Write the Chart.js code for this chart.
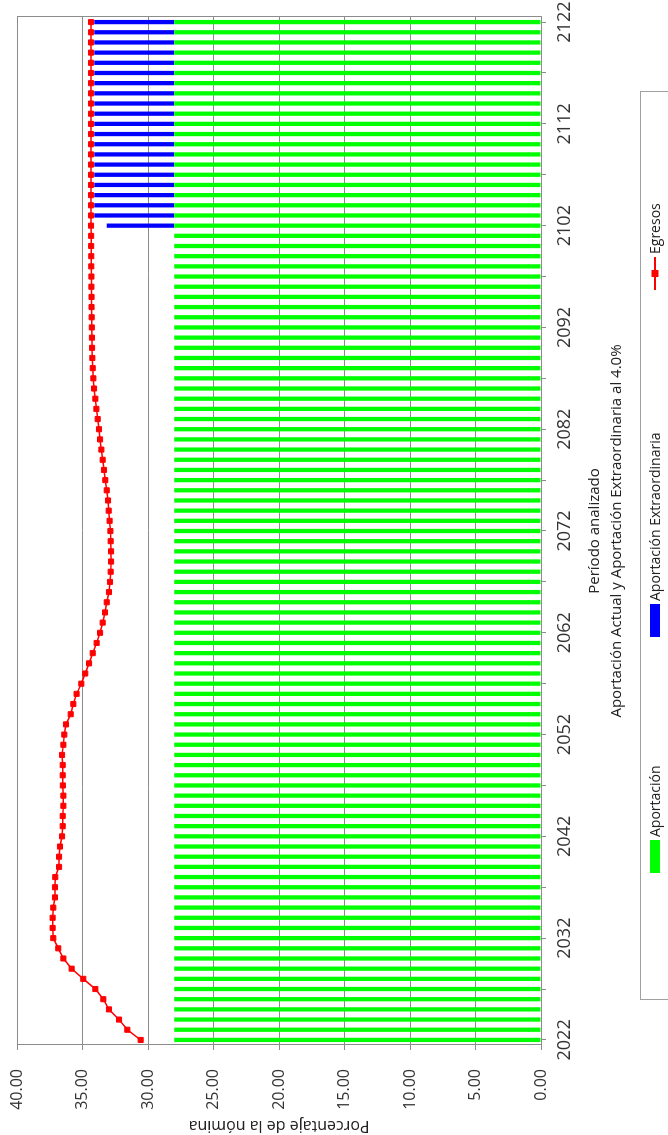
<!DOCTYPE html>
<html lang="es">
<head>
<meta charset="UTF-8">
<title>Aportación y Egresos</title>
<script src="https://cdn.jsdelivr.net/npm/chart.js@4.4.2/dist/chart.umd.min.js"></script>
<style>
    body { margin: 0; background: #fff; overflow: hidden; }
    #wrap {
        position: absolute; left: 0; top: 0;
        width: 1135px; height: 668px;
        transform-origin: 0 0;
        transform: translate(0, 1135px) rotate(-90deg);
        background: #fff;
    }
</style>
</head>
<body>
<div id="wrap"><canvas id="chart" width="1135" height="668"></canvas></div>
<script>
    const years = [
        '2022','2023','2024','2025','2026','2027','2028','2029','2030','2031',
        '2032','2033','2034','2035','2036','2037','2038','2039','2040','2041',
        '2042','2043','2044','2045','2046','2047','2048','2049','2050','2051',
        '2052','2053','2054','2055','2056','2057','2058','2059','2060','2061',
        '2062','2063','2064','2065','2066','2067','2068','2069','2070','2071',
        '2072','2073','2074','2075','2076','2077','2078','2079','2080','2081',
        '2082','2083','2084','2085','2086','2087','2088','2089','2090','2091',
        '2092','2093','2094','2095','2096','2097','2098','2099','2100','2101',
        '2102','2103','2104','2105','2106','2107','2108','2109','2110','2111',
        '2112','2113','2114','2115','2116','2117','2118','2119','2120','2121',
        '2122'
    ];
    const aportacion = [
        28,28,28,28,28,28,28,28,28,28,
        28,28,28,28,28,28,28,28,28,28,
        28,28,28,28,28,28,28,28,28,28,
        28,28,28,28,28,28,28,28,28,28,
        28,28,28,28,28,28,28,28,28,28,
        28,28,28,28,28,28,28,28,28,28,
        28,28,28,28,28,28,28,28,28,28,
        28,28,28,28,28,28,28,28,28,28,
        28,28,28,28,28,28,28,28,28,28,
        28,28,28,28,28,28,28,28,28,28,
        28
    ];
    const extraordinaria = [
        0,0,0,0,0,0,0,0,0,0,
        0,0,0,0,0,0,0,0,0,0,
        0,0,0,0,0,0,0,0,0,0,
        0,0,0,0,0,0,0,0,0,0,
        0,0,0,0,0,0,0,0,0,0,
        0,0,0,0,0,0,0,0,0,0,
        0,0,0,0,0,0,0,0,0,0,
        0,0,0,0,0,0,0,0,0,0,
        5.15,6.1,6.1,6.1,6.1,6.1,6.1,6.1,6.1,6.1,
        6.1,6.1,6.1,6.1,6.1,6.1,6.1,6.1,6.1,6.1,
        6.1
    ];
    const egresos = [
        30.56,31.58,32.21,32.98,33.41,34.02,34.94,35.83,36.46,36.85,
        37.23,37.28,37.28,37.23,37.10,37.10,37.08,36.79,36.79,36.72,
        36.56,36.51,36.51,36.46,36.46,36.50,36.51,36.51,36.56,36.46,
        36.39,36.26,35.90,35.70,35.45,35.09,34.79,34.50,34.22,33.92,
        33.66,33.46,33.28,33.15,32.98,32.90,32.85,32.82,32.82,32.85,
        32.87,32.93,33.00,33.05,33.15,33.26,33.36,33.46,33.56,33.66,
        33.74,33.84,33.94,34.02,34.12,34.17,34.22,34.25,34.27,34.28,
        34.29,34.30,34.31,34.31,34.32,34.32,34.33,34.33,34.34,34.34,
        34.35,34.35,34.35,34.35,34.35,34.35,34.35,34.35,34.35,34.35,
        34.35,34.35,34.35,34.35,34.35,34.35,34.35,34.35,34.35,34.35,
        34.35
    ];
    const valueTicks = [0, 5, 10, 15, 20, 25, 30, 35, 40];

    Chart.defaults.font.family = "'Open Sans', sans-serif";
    Chart.defaults.color = '#333';

    // plot frame + legend box with its three entries
    const frame = {
        id: 'frame',
        afterDraw(chart) {
            const ctx = chart.ctx, a = chart.chartArea;
            ctx.save();
            ctx.strokeStyle = '#8c8c8c';
            ctx.lineWidth = 1;
            ctx.strokeRect(Math.round(a.left) + 0.5, Math.round(a.top) + 0.5,
                Math.round(a.right - a.left), Math.round(a.bottom - a.top));
            ctx.strokeStyle = '#a0a0a0';
            ctx.strokeRect(135.5, 640.5, 908, 80);

            const ds = chart.data.datasets;
            const itemX = [262, 498, 845];
            const cy = 655;
            ctx.font = "14px 'Open Sans', sans-serif";
            ctx.textBaseline = 'middle';
            ds.forEach((d, i) => {
                const x = itemX[i];
                if (d.type === 'line') {
                    ctx.strokeStyle = d.borderColor;
                    ctx.lineWidth = 2;
                    ctx.beginPath();
                    ctx.moveTo(x, cy); ctx.lineTo(x + 33, cy);
                    ctx.stroke();
                    ctx.fillStyle = d.backgroundColor;
                    ctx.fillRect(x + 13, cy - 3.5, 7, 7);
                } else {
                    ctx.fillStyle = d.backgroundColor;
                    ctx.fillRect(x, cy - 5, 33, 10);
                }
                ctx.fillStyle = '#222';
                ctx.fillText(d.label, x + 36, cy + 1);
            });
            ctx.restore();
        }
    };

    new Chart(document.getElementById('chart'), {
        data: {
            labels: years,
            datasets: [
                {
                    type: 'bar', label: 'Aportación', data: aportacion,
                    backgroundColor: '#00ff00', barPercentage: 0.42, categoryPercentage: 1, order: 2
                },
                {
                    type: 'bar', label: 'Aportación Extraordinaria', data: extraordinaria,
                    backgroundColor: '#0000ff', barPercentage: 0.42, categoryPercentage: 1, order: 2
                },
                {
                    type: 'line', label: 'Egresos', data: egresos,
                    borderColor: '#ff0000', backgroundColor: '#ff0000', borderWidth: 1.5,
                    pointStyle: 'rect', pointRadius: 3.6, pointBorderWidth: 1,
                    tension: 0, order: 0, stack: 'egr'
                }
            ]
        },
        options: {
            responsive: false,
            animation: false,
            layout: { padding: { top: 17, right: 17, bottom: 0, left: 0 } },
            plugins: { legend: { display: false }, tooltip: { enabled: false } },
            scales: {
                x: {
                    stacked: true,
                    offset: true,
                    afterFit: s => { s.height = 127; s.paddingLeft = 0; s.paddingRight = 0; },
                    grid: {
                        offset: false,
                        drawOnChartArea: false,
                        tickLength: 5,
                        color: c => (c.index % 5 === 0 ? '#8c8c8c' : 'rgba(0,0,0,0)')
                    },
                    border: { color: '#8c8c8c' },
                    ticks: {
                        autoSkip: false, maxRotation: 0, minRotation: 0, padding: 8,
                        font: { size: 18 }, color: '#333',
                        callback: function (v, i) { return i % 10 === 0 ? this.getLabelForValue(v) : ''; }
                    },
                    title: {
                        display: true,
                        text: ['Período analizado', 'Aportación Actual y Aportación Extraordinaria al 4.0%'],
                        font: { size: 15, lineHeight: '22px' },
                        padding: { top: 0, bottom: 40 },
                        color: '#222'
                    }
                },
                y: {
                    stacked: true,
                    min: 0, max: 40,
                    afterFit: s => { s.width = 90; s.paddingTop = 0; s.paddingBottom = 0; },
                    afterBuildTicks: s => { s.ticks = valueTicks.map(v => ({ value: v })); },
                    grid: { color: '#8c8c8c', tickLength: 5 },
                    border: { color: '#8c8c8c' },
                    ticks: {
                        padding: 19, font: { size: 16 }, color: '#333',
                        callback: v => Number(v).toFixed(2)
                    },
                    title: {
                        display: true, text: 'Porcentaje de la nómina',
                        font: { size: 16 }, padding: { top: 0, bottom: 0 }, color: '#222'
                    }
                }
            }
        },
        plugins: [frame]
    });
</script>
</body>
</html>
